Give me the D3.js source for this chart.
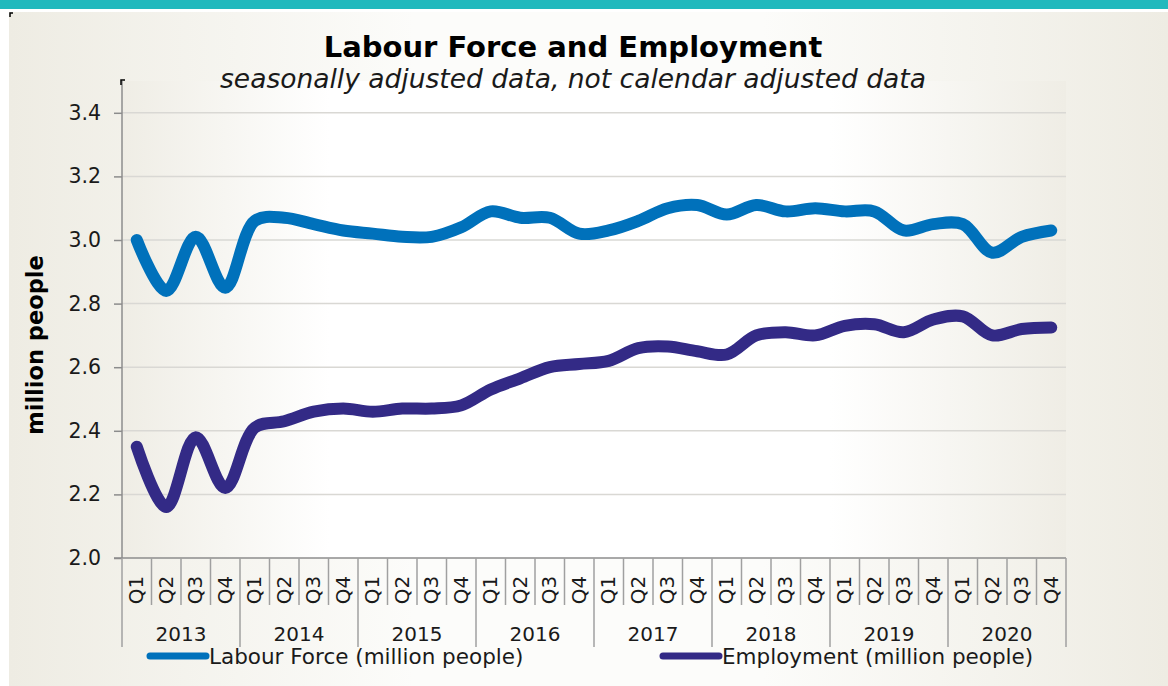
<!DOCTYPE html>
<html>
<head>
<meta charset="utf-8">
<script src="https://cdn.jsdelivr.net/npm/d3@7"></script>
<style>
  body { margin: 0; background: #fff; }
  text { font-family: "DejaVu Sans", Verdana, sans-serif; }
</style>
</head>
<body>
<div id="chart"></div>
<script>
// dati trimestrali
var years = ['2013', '2014', '2015', '2016', '2017', '2018', '2019', '2020'];
var quarters = ['Q1', 'Q2', 'Q3', 'Q4'];
var labourForce = [3.00, 2.84, 3.01, 2.85, 3.06, 3.07, 3.05, 3.03,
                   3.02, 3.01, 3.01, 3.04, 3.09, 3.07, 3.07, 3.02,
                   3.03, 3.06, 3.10, 3.11, 3.08, 3.11, 3.09, 3.10,
                   3.09, 3.09, 3.03, 3.05, 3.05, 2.96, 3.01, 3.03];
var employment = [2.35, 2.16, 2.38, 2.22, 2.41, 2.43, 2.46, 2.47,
                  2.46, 2.47, 2.47, 2.48, 2.53, 2.565, 2.60, 2.61,
                  2.62, 2.66, 2.665, 2.65, 2.64, 2.70, 2.71, 2.70,
                  2.73, 2.735, 2.71, 2.75, 2.76, 2.70, 2.72, 2.725];
var yTicks = [2.0, 2.2, 2.4, 2.6, 2.8, 3.0, 3.2, 3.4];
var seriesNames = ['Labour Force (million people)', 'Employment (million people)'];
var seriesColors = ['#0071bb', '#332a86'];

var width = 1168, height = 686;
var plot = {left: 122, top: 81, right: 1066, bottom: 558};

var svg = d3.select('#chart').append('svg')
    .attr('width', width).attr('height', height);

var defs = svg.append('defs');
var bgGrad = defs.append('linearGradient').attr('id', 'bgGrad')
    .attr('x1', '0%').attr('x2', '100%').attr('y1', '0%').attr('y2', '0%');
bgGrad.append('stop').attr('offset', '0%').attr('stop-color', '#eeece3');
bgGrad.append('stop').attr('offset', '35%').attr('stop-color', '#fcfcfa');
bgGrad.append('stop').attr('offset', '65%').attr('stop-color', '#fcfcfa');
bgGrad.append('stop').attr('offset', '100%').attr('stop-color', '#eeece3');

var plotGrad = defs.append('linearGradient').attr('id', 'plotGrad')
    .attr('x1', '0%').attr('x2', '100%').attr('y1', '0%').attr('y2', '0%');
plotGrad.append('stop').attr('offset', '0%').attr('stop-color', '#efede5');
plotGrad.append('stop').attr('offset', '22%').attr('stop-color', '#ffffff');
plotGrad.append('stop').attr('offset', '75%').attr('stop-color', '#ffffff');
plotGrad.append('stop').attr('offset', '100%').attr('stop-color', '#efede5');

// banda superiore
svg.append('rect').attr('x', 0).attr('y', 0).attr('width', width).attr('height', 9)
    .attr('fill', '#21b9bd');
// sfondo del grafico
svg.append('rect').attr('x', 9).attr('y', 12).attr('width', width - 9).attr('height', height - 12)
    .attr('fill', 'url(#bgGrad)');
svg.append('path').attr('d', 'M10,17V13H13').attr('stroke', '#000').attr('fill', 'none').attr('stroke-width', 1.5);

// area del plot
svg.append('rect').attr('x', plot.left).attr('y', plot.top)
    .attr('width', plot.right - plot.left).attr('height', plot.bottom - plot.top)
    .attr('fill', 'url(#plotGrad)');

var labels = [];
years.forEach(function(y) { quarters.forEach(function(q) { labels.push(y + ' ' + q); }); });

var x = d3.scaleBand().domain(labels).range([plot.left, plot.right]);
var y = d3.scaleLinear().domain([2.0, 3.5]).range([plot.bottom, plot.top]);

// griglia
svg.append('g').selectAll('line').data(yTicks.slice(1)).enter().append('line')
    .attr('x1', plot.left).attr('x2', plot.right)
    .attr('y1', function(d) { return y(d); }).attr('y2', function(d) { return y(d); })
    .attr('stroke', '#d9d8d4').attr('stroke-width', 1.5);

// asse Y
var yAxis = svg.append('g').attr('transform', 'translate(' + plot.left + ',0)')
    .call(d3.axisLeft(y).tickValues(yTicks).tickFormat(d3.format('.1f')).tickSize(8).tickPadding(13));
yAxis.select('.domain').attr('stroke', '#8c8c8c').attr('stroke-width', 1.5)
    .attr('d', 'M0,' + plot.top + 'V' + plot.bottom);
yAxis.selectAll('.tick line').attr('stroke', '#8c8c8c').attr('stroke-width', 1.5);
yAxis.selectAll('.tick text').attr('font-size', 20.5).attr('fill', '#1a1a1a')
    .attr('font-family', '"DejaVu Sans", Verdana, sans-serif');
svg.append('path').attr('d', 'M' + (plot.left - 1) + ',' + (plot.top + 4) + 'V' + (plot.top - 1) + 'H' + (plot.left + 3))
    .attr('stroke', '#000').attr('fill', 'none').attr('stroke-width', 1.5);

// asse X: linea base
svg.append('line').attr('x1', plot.left - 8).attr('x2', plot.right)
    .attr('y1', plot.bottom).attr('y2', plot.bottom)
    .attr('stroke', '#8c8c8c').attr('stroke-width', 1.5);

// separatori trimestri e anni
var xg = svg.append('g');
labels.forEach(function(d, i) {
    if (i === 0) return;
    var isYear = i % 4 === 0;
    xg.append('line').attr('x1', x(d)).attr('x2', x(d))
        .attr('y1', plot.bottom).attr('y2', isYear ? 647 : 605)
        .attr('stroke', '#a0a0a0').attr('stroke-width', 1.5);
});
[plot.left, plot.right].forEach(function(px) {
    xg.append('line').attr('x1', px).attr('x2', px)
        .attr('y1', plot.bottom).attr('y2', 647)
        .attr('stroke', '#a0a0a0').attr('stroke-width', 1.5);
});

// etichette trimestri (ruotate)
xg.selectAll('text.q').data(labels).enter().append('text')
    .attr('class', 'q')
    .attr('transform', function(d) {
        return 'translate(' + (x(d) + x.bandwidth() / 2 + 6.5) + ',590) rotate(-90)';
    })
    .attr('text-anchor', 'middle')
    .attr('font-size', 20).attr('fill', '#1a1a1a')
    .text(function(d) { return d.split(' ')[1]; });

// etichette anni
xg.selectAll('text.y').data(years).enter().append('text')
    .attr('class', 'y')
    .attr('x', function(yr) { return x(yr + ' Q1') + 2 * x.bandwidth(); })
    .attr('y', 641)
    .attr('text-anchor', 'middle')
    .attr('font-size', 20).attr('fill', '#1a1a1a')
    .text(function(d) { return d; });

// linee delle serie
var line = d3.line()
    .x(function(d, i) { return x(labels[i]) + x.bandwidth() / 2; })
    .y(function(d) { return y(d); })
    .curve(d3.curveCatmullRom.alpha(0.5));

[labourForce, employment].forEach(function(s, k) {
    svg.append('path').datum(s)
        .attr('d', line)
        .attr('fill', 'none')
        .attr('stroke', seriesColors[k])
        .attr('stroke-width', 12)
        .attr('stroke-linecap', 'round')
        .attr('stroke-linejoin', 'round');
});

// titolo
svg.append('text').attr('x', 573).attr('y', 57).attr('text-anchor', 'middle')
    .attr('font-size', 29).attr('font-weight', 'bold').attr('fill', '#000')
    .text('Labour Force and Employment');
svg.append('text').attr('x', 573).attr('y', 88).attr('text-anchor', 'middle')
    .attr('font-size', 26.5).attr('font-style', 'italic').attr('fill', '#1a1a1a')
    .text('seasonally adjusted data, not calendar adjusted data');

// titolo asse Y
svg.append('text').attr('transform', 'translate(43,345) rotate(-90)')
    .attr('text-anchor', 'middle').attr('font-size', 22.5).attr('font-weight', 'bold')
    .attr('fill', '#000').text('million people');

// legenda
var legendPos = [150, 663];
seriesNames.forEach(function(name, k) {
    var g = svg.append('g').attr('transform', 'translate(' + legendPos[k] + ',656)');
    g.append('line').attr('x1', 0).attr('x2', 56).attr('y1', 0).attr('y2', 0)
        .attr('stroke', seriesColors[k]).attr('stroke-width', 7).attr('stroke-linecap', 'round');
    g.append('text').attr('x', 59).attr('y', 8).attr('font-size', 21.5).attr('fill', '#1a1a1a')
        .text(name);
});
</script>
</body>
</html>
